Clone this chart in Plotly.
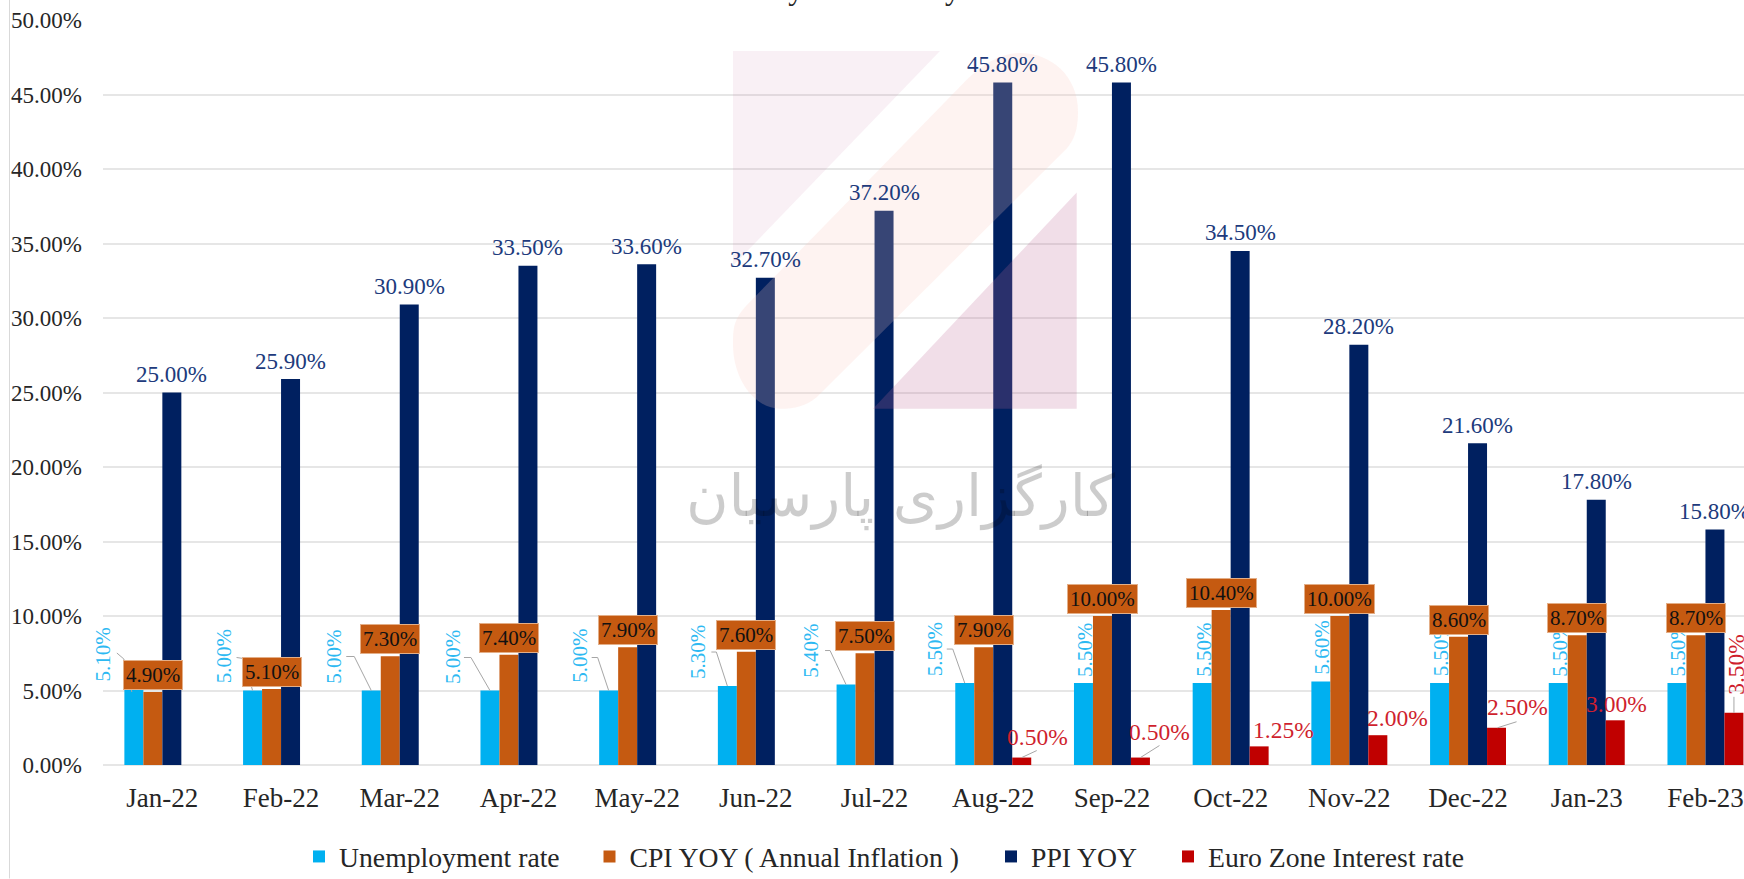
import plotly.graph_objects as go

# ---------- data ----------
months = ["Jan-22","Feb-22","Mar-22","Apr-22","May-22","Jun-22","Jul-22","Aug-22","Sep-22","Oct-22","Nov-22","Dec-22","Jan-23","Feb-23"]
unemployment = [5.1,5.0,5.0,5.0,5.0,5.3,5.4,5.5,5.5,5.5,5.6,5.5,5.5,5.5]
cpi = [4.9,5.1,7.3,7.4,7.9,7.6,7.5,7.9,10.0,10.4,10.0,8.6,8.7,8.7]
ppi = [25.0,25.9,30.9,33.5,33.6,32.7,37.2,45.8,45.8,34.5,28.2,21.6,17.8,15.8]
euro = [None,None,None,None,None,None,None,0.5,0.5,1.25,2.0,2.5,3.0,3.5]
y_ticks = [0,5,10,15,20,25,30,35,40,45,50]

# ---------- geometry / styles ----------
W, H = 1744, 879
L, T, B = 103, 20, 113.5
PW, PH = W - L, H - T - B
BARGAP = 0.36
SLOT = (1 - BARGAP) / 4
SERIF = "Liberation Serif"
CYAN, ORANGE, NAVY, RED = "#00B0F0", "#C55A11", "#002060", "#C00000"

# label offsets in pixels: unemployment labels beside their bars
un_dx = [-31,-29,-38,-37.5,-29,-29.5,-34.5,-30,1,1,1,1,1,1]
un_cy = [655,657,657,657,656.5,652.5,651.5,650,650,650,648,650,650,650]
# leader polylines in pixels relative to the bar top centre (negative dy = up)
un_lead = {0:[(-2,3),(-10,-30),(-17,-36)],1:[(0,0),(-9,-32),(-16,-33)],2:[(0,0),(-17,-34),(-25,-34)],
           3:[(0,0),(-19,-33),(-26,-33)],4:[(0,0),(-11,-33),(-17,-33)],5:[(0,0),(-11,-34),(-16,-34)],
           6:[(0,0),(-16,-34),(-21,-34)],7:[(0,0),(-12,-34),(-18,-34)]}
eu_dx = {7:15.5,8:19,9:24,10:19.5,11:20.7,12:1,13:1.3}
eu_cy = {7:737.3,8:732.7,9:730,10:718,11:707.7,12:704,13:665}
eu_lead = {7:[(0,0),(15,-7)],8:[(0,0),(19,-12)],11:[(1,0),(20,-6)],13:[(0,0),(0,-16)]}

def px(x): return (x - L) / PW
def py(y): return (H - B - y) / PH
def yval(py_): return (H - B - py_) / PH * 50

fig = go.Figure()
series = [("Unemployment rate", unemployment, CYAN, "legend"),
          ("CPI YOY ( Annual Inflation )", cpi, ORANGE, "legend2"),
          ("PPI YOY", ppi, NAVY, "legend3"),
          ("Euro Zone Interest rate", euro, RED, "legend4")]
xs = list(range(len(months)))
for name, vals, col, leg in series:
    fig.add_trace(go.Bar(x=xs, y=vals, name=name, marker=dict(color=col, line=dict(width=0)), legend=leg,
                         hoverinfo="name+y"))

shapes = []
# left page rule
shapes.append(dict(type="line", xref="paper", yref="paper", x0=px(9.5), x1=px(9.5), y0=py(0), y1=py(H),
                   line=dict(color="#D9D9D9", width=1), layer="above"))
# logo
def poly(d, fill):
    shapes.append(dict(type="path", xref="paper", yref="paper", path=d, fillcolor=fill, line=dict(width=0), layer="above"))
def P(x, y): return f"{px(x):.5f},{py(y):.5f}"
poly(f"M{P(733,51)} L{P(940,51)} L{P(733,266)} Z", "rgba(200,120,165,0.11)")
poly(f"M{P(966.7,79.7)} L{P(746.7,305.5)} C{P(733,320)} {P(733,330)} {P(733,345)} "
     f"C{P(733,380)} {P(755,409)} {P(780,409)} C{P(795,409)} {P(806,406)} {P(816.7,397.4)} "
     f"L{P(1066.7,148.6)} C{P(1074,140)} {P(1078,130)} {P(1078,112)} "
     f"C{P(1078,75)} {P(1050,53)} {P(1020,53)} C{P(1000,53)} {P(982,65)} {P(966.7,79.7)} Z",
     "rgba(250,200,190,0.22)")
poly(f"M{P(1076.7,192.6)} L{P(1076.7,409)} L{P(873,409)} Z", "rgba(193,103,152,0.22)")

# leaders
def leader(i, k, value, pts):
    path = "M" + " L".join(f"{dx},{-dy}" for dx, dy in pts)
    shapes.append(dict(type="path", xref="x", yref="y", xsizemode="pixel", ysizemode="pixel",
                       xanchor=i + k * SLOT, yanchor=value, path=path,
                       line=dict(color="#A6A6A6", width=1), layer="above"))
for i, pts in un_lead.items():
    leader(i, -1.5, unemployment[i], pts)
for i, pts in eu_lead.items():
    leader(i, 1.5, euro[i], pts)

ann = []
# watermark and cropped title
ann.append(dict(xref="paper", yref="paper", x=px(900), y=py(497), text="کارگزاری پارسیان", showarrow=False,
                font=dict(family="DejaVu Sans", size=58, color="rgba(0,0,0,0.2)"), xanchor="center", yanchor="middle"))
ann.append(dict(xref="paper", yref="paper", x=px(823), y=py(8), text="Economy of Germany", showarrow=False,
                font=dict(family=SERIF, size=31, color="#262626"), xanchor="center", yanchor="bottom"))

for i, v in enumerate(ppi):
    ann.append(dict(x=i + 0.5 * SLOT, y=v, yshift=18, text=f"{v:.2f}%", showarrow=False, xanchor="center", yanchor="middle",
                    font=dict(family=SERIF, size=23, color="#203A7C")))
for i, v in enumerate(unemployment):
    ann.append(dict(x=i - 1.5 * SLOT, y=yval(un_cy[i]), xshift=un_dx[i], text=f"{v:.2f}%", textangle=-90, showarrow=False,
                    xanchor="center", yanchor="middle", font=dict(family=SERIF, size=21, color="#2DB9F2")))
for i, v in enumerate(euro):
    if v is None:
        continue
    ann.append(dict(x=i + 1.5 * SLOT, y=yval(eu_cy[i]), xshift=eu_dx[i], text=f"{v:.2f}%", showarrow=False,
                    textangle=-90 if i == 13 else 0, xanchor="center", yanchor="middle",
                    font=dict(family=SERIF, size=23.5, color="#CF1F2E")))
for i, v in enumerate(cpi):
    ann.append(dict(x=i - 0.5 * SLOT, y=v, yshift=17, text=f"{v:.2f}%", showarrow=False, xanchor="center", yanchor="middle",
                    bgcolor=ORANGE, bordercolor="#E3AE87", borderwidth=1, borderpad=2,
                    font=dict(family=SERIF, size=21, color="#111111")))

leg_y = py(857.5)
def leg(text_x):
    return dict(x=px(text_x - 40), y=leg_y, xanchor="left", yanchor="middle", orientation="h",
                bgcolor="rgba(0,0,0,0)", font=dict(family=SERIF, size=27.7, color="#262626"))

fig.update_layout(
    width=W, height=H, autosize=False, paper_bgcolor="white", plot_bgcolor="white",
    margin=dict(l=L, r=0, t=T, b=B, pad=0, autoexpand=False),
    barmode="group", bargap=BARGAP, bargroupgap=0,
    font=dict(family=SERIF),
    xaxis=dict(range=[-0.5, -0.5 + PW / 118.7], tickmode="array", tickvals=xs, ticktext=months, showgrid=False, zeroline=False,
               ticks="", showline=False, tickfont=dict(family=SERIF, size=27, color="#262626"), ticklabelstandoff=14, automargin=False),
    yaxis=dict(range=[0, 50], tickmode="array", tickvals=y_ticks, ticktext=[f"{t:.2f}%" for t in y_ticks], showgrid=True,
               gridcolor="#E6E6E6", gridwidth=1.5, zeroline=True, zerolinecolor="#E6E6E6", zerolinewidth=1.5, showline=False,
               ticks="", tickfont=dict(family=SERIF, size=23, color="#262626"), ticklabelstandoff=20, automargin=False),
    legend=leg(339), legend2=leg(629.5), legend3=leg(1031), legend4=leg(1208),
    shapes=shapes, annotations=ann, showlegend=True,
)
fig.write_html("out.html", config={"displayModeBar": False},
               post_script="document.body.style.margin='0';document.body.style.overflow='hidden';")
